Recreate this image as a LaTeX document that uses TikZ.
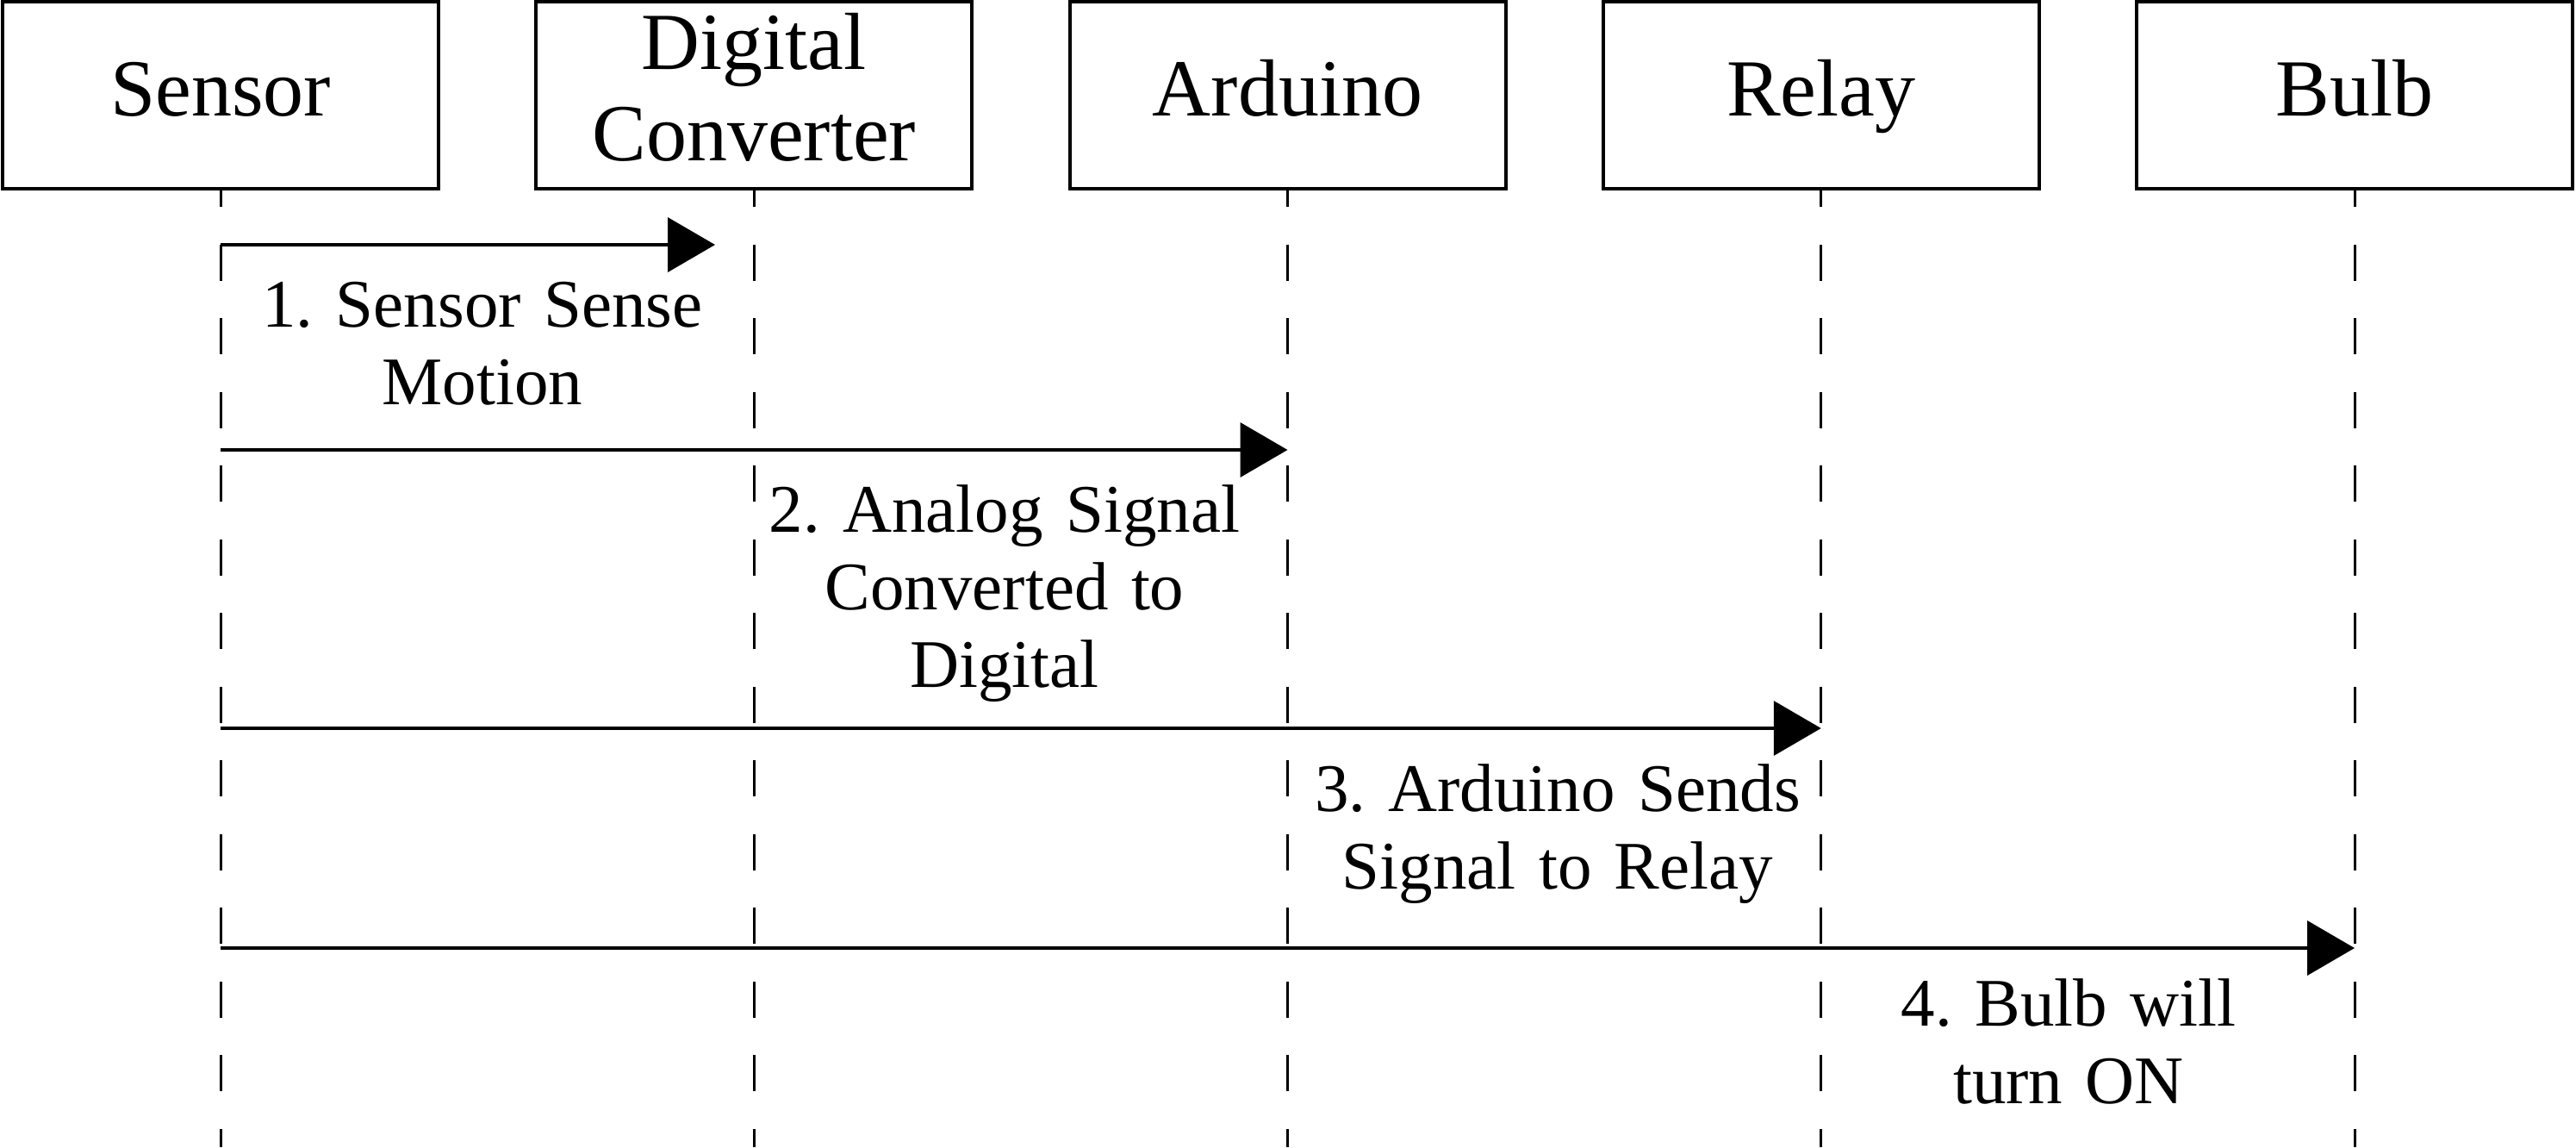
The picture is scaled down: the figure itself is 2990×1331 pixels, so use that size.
\documentclass[tikz,border=0pt]{standalone}
\usepackage{fontspec}
\setmainfont{Liberation Serif}
\usetikzlibrary{arrows.meta}
\frenchspacing
\begin{document}
\begin{tikzpicture}[x=1pt,y=-1pt,
  actor/.style={draw=black, line width=4pt, minimum width=506pt, minimum height=217pt, inner sep=0pt, font=\fontsize{94}{106}\selectfont, text height=70pt, text depth=23pt},
  lifeline/.style={draw=black, line width=3pt, dash pattern=on 42pt off 43.5pt, dash phase=23pt},
  msg/.style={draw=black, line width=4pt, -{Triangle[length=55pt,width=63pt]}},
  msglabel/.style={anchor=base, font=\fontsize{79}{90}\selectfont\frenchspacing, text width=700pt, align=center, inner sep=0pt}
]
\fill[white] (0,0) rectangle (2990,1331);
\useasboundingbox (0,0) rectangle (2990,1331);

\node[actor] (sensor) at (256,110.5) {Sensor};
\node[actor, text height=0pt, text depth=61pt] (conv) at (875.25,110.5) {\smash{\parbox[t]{500pt}{\centering Digital\\Converter}}};
\node[actor] (arduino) at (1494.5,110.5) {Arduino};
\node[actor] (relay) at (2113.75,110.5) {Relay};
\node[actor] (bulb) at (2733,110.5) {Bulb};

\coordinate (sensorEnd) at (256,1331);
\coordinate (convEnd) at (875.25,1331);
\coordinate (arduinoEnd) at (1494.5,1331);
\coordinate (relayEnd) at (2113.75,1331);
\coordinate (bulbEnd) at (2733,1331);

\draw[lifeline] (sensor.south) -- (sensorEnd);
\draw[lifeline] (conv.south) -- (convEnd);
\draw[lifeline] (arduino.south) -- (arduinoEnd);
\draw[lifeline] (relay.south) -- (relayEnd);
\draw[lifeline] (bulb.south) -- (bulbEnd);

\coordinate (m1s) at (256,284);
\coordinate (m1e) at (830,284);
\coordinate (m2s) at (256,522);
\coordinate (m2e) at (1494.5,522);
\coordinate (m3s) at (256,845);
\coordinate (m3e) at (2113.75,845);
\coordinate (m4s) at (256,1100);
\coordinate (m4e) at (2733,1100);

\draw[msg] (m1s) -- (m1e);
\draw[msg] (m2s) -- (m2e);
\draw[msg] (m3s) -- (m3e);
\draw[msg] (m4s) -- (m4e);

\node[msglabel] (l1) at (560,379) {1. Sensor Sense\\Motion};
\node[msglabel] (l2) at (1166,617) {2. Analog Signal\\Converted to\\Digital};
\node[msglabel] (l3) at (1808,941) {3. Arduino Sends\\Signal to Relay};
\node[msglabel] (l4) at (2401,1190) {4. Bulb will\\turn ON};
\end{tikzpicture}
\end{document}
